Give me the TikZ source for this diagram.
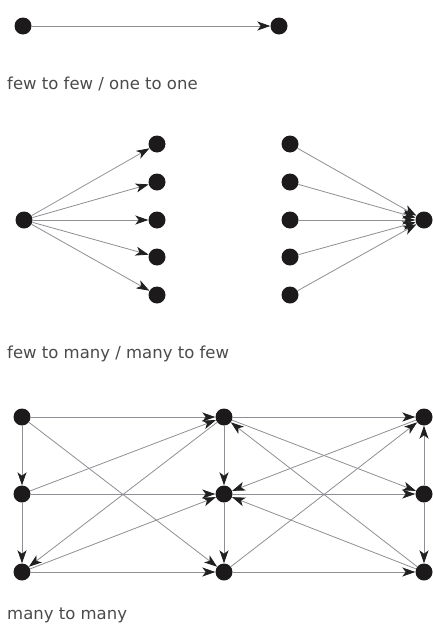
\documentclass[tikz,border=0pt]{standalone}
\usepackage{fontspec}
\setmainfont{DejaVu Sans}
\usetikzlibrary{arrows.meta}
\definecolor{dotc}{HTML}{1C1A1A}
\definecolor{linec}{HTML}{8E8E94}
\definecolor{tipc}{HTML}{202020}
\definecolor{textc}{HTML}{4A4A4A}
\begin{document}
\begin{tikzpicture}[x=1pt,y=-1pt,
  dot/.style={circle,fill=dotc,inner sep=0pt,minimum size=17pt},
  link/.style={draw=linec,line width=0.8pt,
    -{Stealth[length=13pt,width=9pt,inset=3.5pt,color=tipc]}},
  caption/.style={anchor=base west,inner sep=0pt,text=textc,
    font=\fontsize{16.5}{20}\selectfont}]
\useasboundingbox (0,0) rectangle (433,624);

% one to one
\node[dot] (t1) at (23,26) {};
\node[dot] (t2) at (279,26) {};
\draw[link] (t1) -- (t2);
\node[caption] (cap1) at (7,89) {few to few / one to one};

% one to many
\node[dot] (s) at (24,220) {};
\foreach \i/\y in {1/144,2/182,3/220,4/257,5/295}{
  \node[dot] (f\i) at (157,\y) {};
  \draw[link] (s) -- (f\i);
}

% many to one
\node[dot] (h) at (424,220) {};
\foreach \i/\y in {1/144,2/182,3/220,4/257,5/295}{
  \node[dot] (g\i) at (290,\y) {};
  \draw[link] (g\i) -- (h);
}
\node[caption] (cap2) at (7,358) {few to many / many to few};

% many to many
\foreach \c/\x in {a/22,b/224,c/424}{
  \foreach \r/\y in {1/417,2/494,3/572}{
    \node[dot] (\c\r) at (\x,\y) {};
  }
}
\draw[link] (a1) -- (b1);
\draw[link] (a2) -- (b2);
\draw[link] (a3) -- (b3);
\draw[link] (b1) -- (c1);
\draw[link] (b2) -- (c2);
\draw[link] (b3) -- (c3);
\draw[link] (a1) -- (a2);
\draw[link] (a2) -- (a3);
\draw[link] (b1) -- (b2);
\draw[link] (b2) -- (b3);
\draw[link] (c2) -- (c1);
\draw[link] (c2) -- (c3);
\draw[link] (a1) -- (b3);
\draw[link] (a2) -- (b1);
\draw[link] (b1) -- (a3);
\draw[link] (a3) -- (b2);
\draw[link] (b1) -- (c2);
\draw[link] (c1) -- (b2);
\draw[link] (b3) -- (c1);
\draw[link] (c3) -- (b1);
\draw[link] (c3) -- (b2);
\node[caption] (cap3) at (7,619) {many to many};
\end{tikzpicture}
\end{document}
